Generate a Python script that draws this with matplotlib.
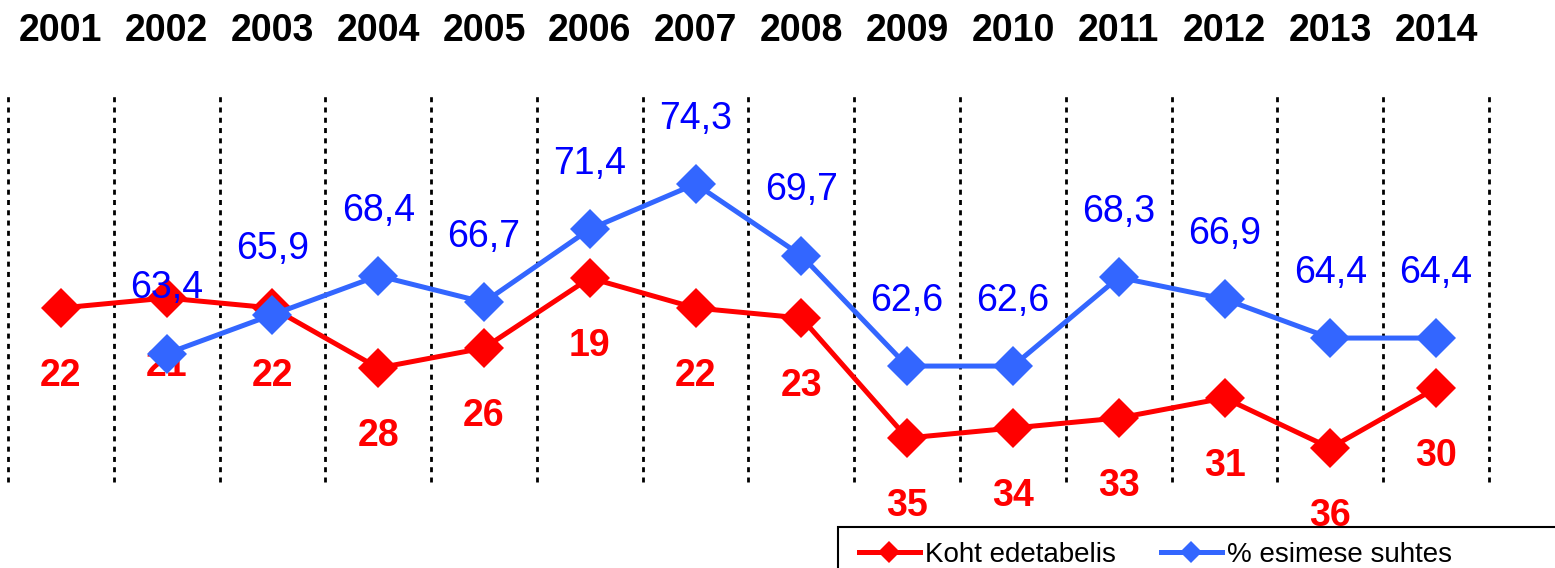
import matplotlib
matplotlib.use("Agg")
import matplotlib.pyplot as plt
import matplotlib.transforms as mtransforms
from matplotlib.patches import Rectangle
import numpy as np

plt.rcParams['font.family'] = ['Liberation Sans', 'DejaVu Sans']

years = ["2001", "2002", "2003", "2004", "2005", "2006", "2007",
         "2008", "2009", "2010", "2011", "2012", "2013", "2014"]
rank = [22, 21, 22, 28, 26, 19, 22, 23, 35, 34, 33, 31, 36, 30]
pct = [np.nan, 63.4, 65.9, 68.4, 66.7, 71.4, 74.3, 69.7, 62.6, 62.6, 68.3, 66.9, 64.4, 64.4]

RED = "#FF0000"
BLUE_LINE = "#3366FF"
BLUE_TEXT = "#0000FF"

W, H = 1555, 568
fig = plt.figure(figsize=(W / 100, H / 100), dpi=100)
left, right, top, bottom = 8, 1489, 92, 482
ax = fig.add_axes([left / W, 1 - bottom / H, (right - left) / W, (bottom - top) / H])
ax2 = ax.twinx()

x = np.arange(len(years))
for a in (ax, ax2):
    a.set_xlim(-0.5, len(years) - 0.5)
    for s in a.spines.values():
        s.set_visible(False)
    a.set_xticks([])
    a.set_yticks([])
    a.patch.set_visible(False)

ax.set_ylim(39.4, 0.4)
ax2.set_ylim(55.15, 80.21)

# dotted separators
for b in np.arange(-0.5, len(years), 1.0):
    ax.axvline(b, color="black", lw=2.0, linestyle=(0, (1.8, 1.9)), zorder=1,
               clip_on=False)

l1, = ax.plot(x, rank, color=RED, lw=3.6, marker="D", markersize=20,
              markeredgewidth=0, zorder=3, label="Koht edetabelis")
l2, = ax2.plot(x, pct, color=BLUE_LINE, lw=3.6, marker="D", markersize=20,
               markeredgewidth=0, zorder=3, label="% esimese suhtes")

for xi, v in zip(x, rank):
    ax.annotate(f"{v}", (xi, v), xytext=(0, -49), textcoords="offset points",
                ha="center", va="center", color=RED, fontsize=27,
                fontweight="bold", annotation_clip=False, zorder=6)
for xi, v in zip(x, pct):
    if np.isnan(v):
        continue
    ax2.annotate(f"{v:.1f}".replace(".", ","), (xi, v), xytext=(0, 47),
                 textcoords="offset points", ha="center", va="center",
                 color=BLUE_TEXT, fontsize=27, annotation_clip=False, zorder=6)

trans = mtransforms.blended_transform_factory(ax.transData, fig.transFigure)
for xi, yr in zip(x, years):
    fig.text(xi, 1 - 31 / H, yr, transform=trans, ha="center", va="center",
             fontsize=27, fontweight="bold", color="black")

# legend box extending past the right/bottom edge, as in the reference
box = Rectangle((838 / W, -0.05), (1620 - 838) / W, 0.05 + (H - 527) / H,
                transform=fig.transFigure, facecolor="white", edgecolor="black",
                linewidth=1.5, zorder=9)
fig.add_artist(box)

leg = fig.legend(handles=[l1, l2], loc="upper left",
                 bbox_to_anchor=(842 / W, 1 - 525 / H), ncol=2,
                 frameon=False, fontsize=20, handlelength=2.2,
                 handletextpad=0.2, columnspacing=1.6, borderpad=0.1,
                 markerscale=0.55)
leg.set_zorder(10)

fig.savefig("out.png", dpi=100)
